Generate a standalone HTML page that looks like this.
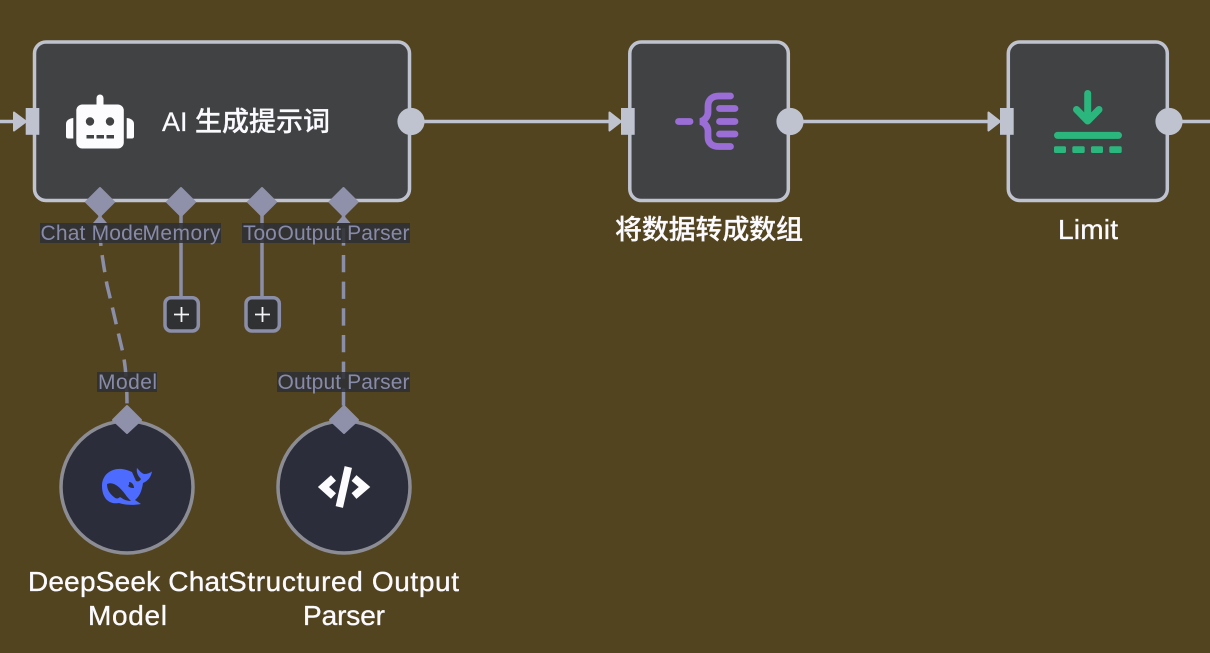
<!DOCTYPE html>
<html><head><meta charset="utf-8">
<style>
html,body{margin:0;padding:0;width:1210px;height:653px;overflow:hidden;background:#534420}
svg{display:block}
text{font-family:"Liberation Sans","Noto Sans CJK SC",sans-serif}
.n{font-size:28px;fill:#fbfbff;stroke:#fbfbff;stroke-width:.35}
.z{font-size:27px;fill:#fbfbff;font-weight:500;stroke:#fbfbff;stroke-width:.25}
.l{font-size:21px;fill:#878ba9}
</style></head><body>
<svg width="1210" height="653" viewBox="0 0 1210 653">
<defs>
<clipPath id="c1"><rect x="40" y="220" width="102" height="26"/></clipPath>
<clipPath id="c2"><rect x="243" y="220" width="34" height="26"/></clipPath>
</defs>
<rect width="1210" height="653" fill="#534420"/>

<!-- main connectors -->
<g stroke="#bfc3d0" stroke-width="3.5" fill="none">
<path d="M0 121.5H16M424 121.5H612M803 121.5H990M1182 121.5H1210"/>
</g>
<g fill="#bfc3d0" stroke="#bfc3d0" stroke-width="2" stroke-linejoin="round">
<path d="M14 112.5L26 121.5L14 130.5Z"/>
<path d="M609.5 112.5L621 121.5L609.5 130.5Z"/>
<path d="M988.5 112.5L1000 121.5L988.5 130.5Z"/>
</g>

<!-- nodes -->
<g fill="#414244" stroke="#bfc3d0" stroke-width="3.5">
<rect x="34.5" y="42" width="375" height="158.5" rx="11.5"/>
<rect x="629.8" y="42" width="158.5" height="158.5" rx="11.5"/>
<rect x="1008.3" y="42" width="159" height="158.5" rx="11.5"/>
</g>
<g fill="#bfc3d0">
<rect x="25.7" y="108" width="13.6" height="26.8"/>
<rect x="621" y="108" width="13.7" height="26.8"/>
<rect x="1000" y="108" width="13.7" height="26.8"/>
<circle cx="411" cy="121.5" r="13.6"/>
<circle cx="790" cy="121.5" r="13.6"/>
<circle cx="1169" cy="121.5" r="13.6"/>
</g>

<!-- robot icon -->
<g fill="#fcfcff">
<rect x="76.3" y="104.5" width="47.5" height="44" rx="6"/>
<rect x="96.5" y="94.5" width="7" height="14" rx="3.5"/>
<path d="M73.3 118V138.5H68C66.8 138.5 66 137.7 66 136.5V124C66 120.5 69 118.5 73.3 118Z"/>
<path d="M126.7 118V138.5H132C133.2 138.5 134 137.7 134 136.5V124C134 120.5 131 118.5 126.7 118Z"/>
</g>
<g fill="#414244">
<circle cx="90" cy="121.5" r="4.2"/><circle cx="110" cy="121.5" r="4.2"/>
<rect x="86.5" y="135" width="7.5" height="3.5"/><rect x="96.5" y="135" width="7.5" height="3.5"/><rect x="106.5" y="135" width="7.5" height="3.5"/>
</g>
<text class="z" x="162" y="131" textLength="168" lengthAdjust="spacing">AI 生成提示词</text>

<!-- brace icon -->
<g fill="none" stroke="#9b6dd7" stroke-width="6.8" stroke-linecap="round">
<path d="M678.500 121.500H690"/>
<path d="M730.500 96H719C712 96 708 100 708 106V112C708 117 704 121 700 121.500C704 122 708 126 708 131V137C708 143 712 146.500 719 146.500H730.500"/>
<path d="M719.500 108.500H735M719.500 121.500H735M719.500 134H735"/>
</g>
<text class="z" x="709" y="239" text-anchor="middle" textLength="188" lengthAdjust="spacing">将数据转成数组</text>

<!-- limit icon -->
<g fill="none" stroke="#2bb67d" stroke-width="7" stroke-linecap="round" stroke-linejoin="round">
<path d="M1087.700 93.500V121M1076.500 109.500L1087.700 121L1099 109.500"/>
<path d="M1057.500 135.400H1118.500"/>
</g>
<g fill="#2bb67d">
<rect x="1054" y="146.300" width="12" height="6.700" rx="1.500"/>
<rect x="1072.300" y="146.300" width="12.400" height="6.700" rx="1.500"/>
<rect x="1091" y="146.300" width="12" height="6.700" rx="1.500"/>
<rect x="1109.300" y="146.300" width="12.400" height="6.700" rx="1.500"/>
</g>
<text class="n" x="1088" y="239" text-anchor="middle" textLength="60" lengthAdjust="spacing">Limit</text>

<!-- sub connectors -->
<g fill="none" stroke="#8b8ea8" stroke-width="3.500">
<path d="M181 212V297M262 212V297"/>
<path d="M343.500 201.600V405.600" stroke-dasharray="17.300 9.370"/>
<path d="M100 202L100 235C101 250 103 262 107 285C111 301 117 328 123 353C125 363 127 380 127 405" stroke-dasharray="17.300 9.370"/>
</g>
<g fill="#8f91aa">
<path d="M93 223L100 215L107 223Z"/>
<path d="M336.500 223L343.500 215L350.500 223Z"/>
</g>

<!-- plus buttons -->
<g fill="#2f3133" stroke="#8b8ea8" stroke-width="3.500">
<rect x="165" y="297.700" width="33.300" height="33.300" rx="6"/>
<rect x="246" y="297.700" width="33.300" height="33.300" rx="6"/>
</g>
<g stroke="#f4f4f6" stroke-width="1.800">
<path d="M174 314.500H189M181.500 307V322M255 314.500H270M262.500 307V322"/>
</g>

<!-- sub nodes -->
<g fill="#2b2d3b" stroke="#8c8c94" stroke-width="3.500">
<circle cx="127" cy="487" r="66"/>
<circle cx="344" cy="487" r="66"/>
</g>

<!-- diamonds -->
<g fill="#8f91aa" stroke="#8f91aa" stroke-width="2" stroke-linejoin="round">
<path d="M100 188L114 202L100 216L86 202Z"/>
<path d="M181 188L195 202L181 216L167 202Z"/>
<path d="M262 188L276 202L262 216L248 202Z"/>
<path d="M343.500 188L357.500 202L343.500 216L329.500 202Z"/>
<path d="M127 406L141 420L127 433L113 420Z"/>
<path d="M344 406L358 420L344 433L330 420Z"/>
</g>

<!-- labels -->
<g fill="#2f3034" fill-opacity=".88">
<rect x="40" y="223" width="102" height="20"/>
<rect x="142" y="223" width="79" height="20"/>
<rect x="242" y="223" width="35" height="20"/>
<rect x="277" y="223" width="133" height="20"/>
<rect x="97" y="372" width="60" height="20"/>
<rect x="277" y="372" width="133" height="20"/>
</g>
<text class="l" x="40.500" y="240" textLength="109" lengthAdjust="spacing" clip-path="url(#c1)">Chat Model</text>
<text class="l" x="142.500" y="240" textLength="78" lengthAdjust="spacing">Memory</text>
<text class="l" x="243" y="240" clip-path="url(#c2)">Tool</text>
<text class="l" x="277.500" y="240" textLength="132" lengthAdjust="spacing">Output Parser</text>
<text class="l" x="98" y="389" textLength="59" lengthAdjust="spacing">Model</text>
<text class="l" x="277.500" y="389" textLength="132" lengthAdjust="spacing">Output Parser</text>

<!-- whale icon -->
<path fill="#4d6bfe" d="M102 486C102 474 112 468 122 469C126 469.500 130 471 132 472L136 481C138 482 140 481 141 479C138 476 136 472 137 468C139 470 141 473 144 474C147 474 150 473 152 471.500C151 477 148 481 143 483C142 490 140 496 135 500L141 504C133 505.500 125 505 119 503C108 505 102 497 102 486Z"/>
<path fill="#2b2d3b" d="M107 484C113 481 120 487 125 494C127 497 129 499 131 501C126 501 123 499 120 497C118 499 116 499 114 497C110 494 107 490 107 484Z"/>
<path fill="#2b2d3b" d="M129 482C132 482 134 485 134 488C132 488 130 488 128 486C129 485 129.500 484 129 482Z"/>

<!-- code icon -->
<g fill="none" stroke="#fcfcff" stroke-width="7.500">
<path d="M333.500 478L323.500 487L333.500 496"/>
<path d="M354 478L364.500 487L354 496"/>
<path d="M348.300 467L339.300 507"/>
</g>

<!-- sub node names -->
<text class="n" x="28" y="591" textLength="200" lengthAdjust="spacing">DeepSeek Chat</text>
<text class="n" x="88" y="625" textLength="79" lengthAdjust="spacing">Model</text>
<text class="n" x="228" y="591" textLength="231" lengthAdjust="spacing">Structured Output</text>
<text class="n" x="303" y="625" textLength="82" lengthAdjust="spacing">Parser</text>
</svg>
</body></html>
